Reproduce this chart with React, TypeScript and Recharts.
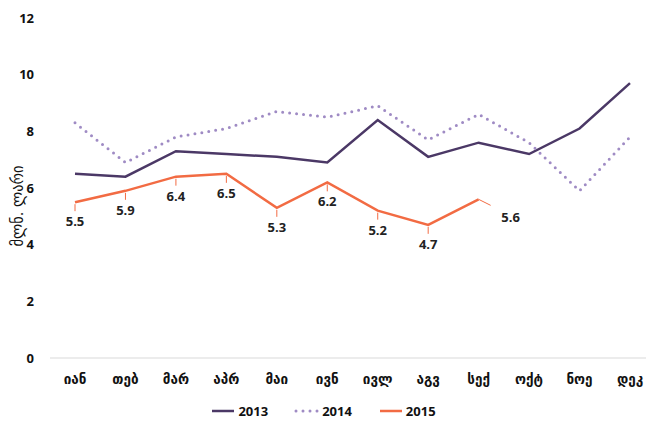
import React from "react";
import { LineChart, Line, XAxis, YAxis, LabelList } from "recharts";

const months = ["იან", "თებ", "მარ", "აპრ", "მაი", "ივნ", "ივლ", "აგვ", "სექ", "ოქტ", "ნოე", "დეკ"];
const y2013 = [6.5, 6.4, 7.3, 7.2, 7.1, 6.9, 8.4, 7.1, 7.6, 7.2, 8.1, 9.7];
const y2014 = [8.3, 6.9, 7.8, 8.1, 8.7, 8.5, 8.9, 7.7, 8.6, 7.6, 5.9, 7.8];
const y2015 = [5.5, 5.9, 6.4, 6.5, 5.3, 6.2, 5.2, 4.7, 5.6];
const yTicks = [0, 2, 4, 6, 8, 10, 12];

const data = months.map((m, i) => ({
  month: m,
  s2013: y2013[i],
  s2014: y2014[i],
  s2015: i < y2015.length ? y2015[i] : null,
}));

const C2013 = "#4b3866";
const C2014 = "#9f8bc4";
const C2015 = "#f26b43";
const font = "'Open Sans', 'DejaVu Sans', sans-serif";
const geoFont = "'DejaVu Sans Condensed', 'DejaVu Sans', sans-serif";

const PointLabel = (props: any) => {
  const { x, y, value, index } = props;
  if (value == null) return null;
  const last = index === y2015.length - 1;
  if (last) {
    return (
      <g>
        <line x1={x} y1={y} x2={x + 12} y2={y + 6} stroke={C2015} strokeWidth={1} />
        <text x={x + 32} y={y + 23} textAnchor="middle" fontSize={13} fontWeight={700} fill="#222" fontFamily={font}>
          {value.toFixed(1)}
        </text>
      </g>
    );
  }
  return (
    <g>
      <line x1={x} y1={y + 2} x2={x} y2={y + 9} stroke={C2015} strokeWidth={1} />
      <text x={x} y={y + 24} textAnchor="middle" fontSize={13} fontWeight={700} fill="#222" fontFamily={font}>
        {value.toFixed(1)}
      </text>
    </g>
  );
};

const legendItems = [
  { name: "2013", color: C2013, dash: undefined as string | undefined },
  { name: "2014", color: C2014, dash: "0 7" },
  { name: "2015", color: C2015, dash: undefined as string | undefined },
];

export default function App() {
  return (
    <div style={{ position: "absolute", left: 0, top: 0, width: 646, height: 421, overflow: "hidden", background: "#fff" }}>
      <LineChart width={660} height={421} data={data} margin={{ top: 18, right: 5, left: 0, bottom: 33 }}>
        <XAxis
          dataKey="month"
          axisLine={{ stroke: "#d9d9d9" }}
          tickLine={false}
          tickMargin={9}
          height={30}
          interval={0}
          padding={{ left: 25, right: 25 }}
          tick={{ fontSize: 15, fontWeight: 700, fill: "#111", fontFamily: geoFont }}
        />
        <YAxis
          domain={[0, 12]}
          ticks={yTicks}
          width={50}
          axisLine={false}
          tickLine={false}
          tickMargin={10}
          tick={{ fontSize: 13, fontWeight: 700, fill: "#111", fontFamily: font }}
          label={{
            value: "მლნ. ლარი",
            angle: -90,
            position: "insideLeft",
            dx: 12,
            dy: 18,
            style: { fontSize: 16, fill: "#111", fontFamily: geoFont, textAnchor: "middle" },
          }}
        />
        <Line dataKey="s2013" stroke={C2013} strokeWidth={2.5} dot={false} isAnimationActive={false} />
        <Line
          dataKey="s2014"
          stroke={C2014}
          strokeWidth={3}
          strokeDasharray="0 7"
          strokeLinecap="round"
          dot={false}
          isAnimationActive={false}
        />
        <Line dataKey="s2015" stroke={C2015} strokeWidth={2.5} dot={false} isAnimationActive={false} connectNulls={false}>
          <LabelList dataKey="s2015" content={PointLabel} />
        </Line>
      </LineChart>
      <div
        style={{
          position: "absolute",
          top: 402,
          left: 0,
          width: 646,
          display: "flex",
          justifyContent: "center",
          gap: 26,
          fontFamily: font,
          fontSize: 13,
          fontWeight: 700,
          color: "#111",
        }}
      >
        {legendItems.map((it) => (
          <div key={it.name} style={{ display: "flex", alignItems: "center", gap: 2 }}>
            <svg width={26} height={10}>
              <line
                x1={2}
                y1={5}
                x2={24}
                y2={5}
                stroke={it.color}
                strokeWidth={it.dash ? 3 : 2.5}
                strokeDasharray={it.dash}
                strokeLinecap={it.dash ? "round" : "butt"}
              />
            </svg>
            <span>{it.name}</span>
          </div>
        ))}
      </div>
    </div>
  );
}
